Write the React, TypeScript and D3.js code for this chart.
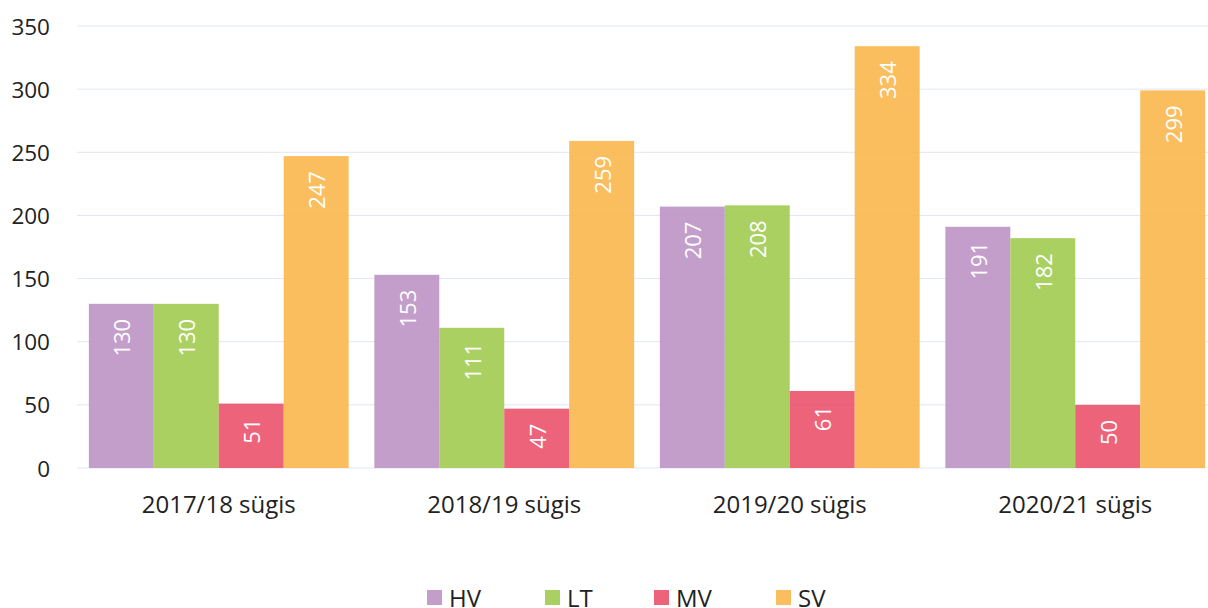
import React from "react";
import * as d3 from "d3";

const categories = ["2017/18 sügis", "2018/19 sügis", "2019/20 sügis", "2020/21 sügis"];
const seriesNames = ["HV", "LT", "MV", "SV"];
const hv = [130, 153, 207, 191];
const lt = [130, 111, 208, 182];
const mv = [51, 47, 61, 50];
const sv = [247, 259, 334, 299];
const yTicks = [0, 50, 100, 150, 200, 250, 300, 350];
const colors = ["#bd94c4", "#a2cb51", "#ea526c", "#fab74d"];

const W = 1208;
const H = 608;
const FONT = "'Open Sans', 'Noto Sans', sans-serif";

export default function App() {
  const series = [hv, lt, mv, sv];
  const x0 = d3.scaleBand<string>().domain(categories).range([76, 1218]).paddingInner(0.09).paddingOuter(0.045);
  const x1 = d3.scaleBand<string>().domain(seriesNames).range([0, x0.bandwidth()]).padding(0);
  const y = d3.scaleLinear().domain([0, 350]).range([468, 26]);
  const legendX = [427, 545, 654, 776];

  return (
    <svg width={W} height={H} style={{ position: "absolute", left: 0, top: 0, fontFamily: FONT }}>
      {yTicks.map((t) => (
        <g key={t}>
          <line x1={77} x2={W} y1={y(t)} y2={y(t)} stroke="#e0e6f1" strokeWidth={1} />
          <text x={50} y={y(t)} textAnchor="end" dominantBaseline="central" fontSize={22.5} fill="#222">
            {t}
          </text>
        </g>
      ))}
      {categories.map((c, ci) => (
        <g key={c}>
          {seriesNames.map((s, si) => {
            const v = series[si][ci];
            const bx = (x0(c) as number) + (x1(s) as number);
            const bw = x1.bandwidth();
            const top = y(v);
            const cx = bx + bw / 2;
            const ly = top + 15;
            return (
              <g key={s}>
                <rect x={bx} y={top} width={bw} height={y(0) - top} fill={colors[si]} fillOpacity={0.9} />
                <text
                  transform={`translate(${cx},${ly}) rotate(-90)`}
                  textAnchor="end"
                  dominantBaseline="central"
                  fontSize={22}
                  fill="#fff"
                >
                  {v}
                </text>
              </g>
            );
          })}
          <text
            x={(x0(c) as number) + x0.bandwidth() / 2}
            y={503}
            textAnchor="middle"
            dominantBaseline="central"
            fontSize={24}
            fill="#222"
          >
            {c}
          </text>
        </g>
      ))}
      {seriesNames.map((s, si) => (
        <g key={s}>
          <rect x={legendX[si]} y={590} width={15} height={15} fill={colors[si]} fillOpacity={0.9} />
          <text x={legendX[si] + 22} y={597} dominantBaseline="central" fontSize={24} fill="#222">
            {s}
          </text>
        </g>
      ))}
    </svg>
  );
}
